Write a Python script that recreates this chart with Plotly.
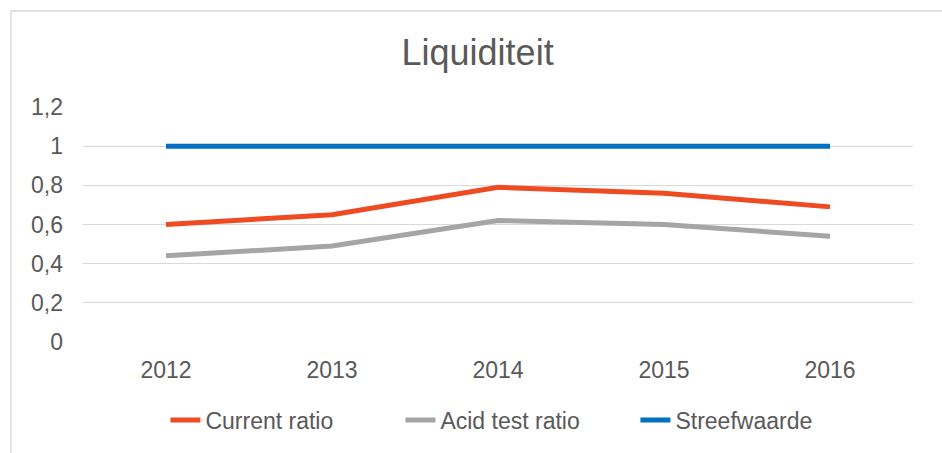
import plotly.graph_objects as go

years = ["2012", "2013", "2014", "2015", "2016"]
current_ratio = [0.60, 0.65, 0.79, 0.76, 0.69]
acid_test_ratio = [0.44, 0.49, 0.62, 0.60, 0.54]
streefwaarde = [1, 1, 1, 1, 1]
y_ticks = [0, 0.2, 0.4, 0.6, 0.8, 1, 1.2]
y_tick_labels = ["0", "0,2", "0,4", "0,6", "0,8", "1", "1,2"]

font = "Liberation Sans, Arial, sans-serif"
txt = "#595959"

fig = go.Figure()
fig.add_trace(go.Scatter(x=years, y=current_ratio, name="Current ratio", mode="lines",
                         line=dict(color="#EE4B23", width=5)))
fig.add_trace(go.Scatter(x=years, y=acid_test_ratio, name="Acid test ratio", mode="lines",
                         line=dict(color="#A5A5A5", width=5)))
fig.add_trace(go.Scatter(x=years, y=streefwaarde, name="Streefwaarde", mode="lines",
                         line=dict(color="#0070C0", width=5)))

fig.update_layout(
    width=942, height=453,
    margin=dict(l=83, r=29, t=107, b=111),
    paper_bgcolor="white", plot_bgcolor="white",
    font=dict(family=font, color=txt, size=23),
    title=dict(text="Liquiditeit", x=0.507, xanchor="center", y=0.885, yanchor="middle",
               font=dict(size=36, color=txt, family=font)),
    xaxis=dict(type="category", range=[-0.5, 4.5], showgrid=False, showline=False,
               ticks="", tickfont=dict(size=23, color=txt), ticklabelstandoff=12),
    yaxis=dict(range=[0, 1.2], tickvals=y_ticks, ticktext=y_tick_labels,
               showgrid=True, gridcolor="#D9D9D9", gridwidth=1.3, zeroline=False,
               showline=False, ticks="", tickfont=dict(size=23, color=txt),
               ticklabelstandoff=19),
    legend=dict(orientation="h", x=0.524, xanchor="center", y=-0.332, yanchor="middle",
                font=dict(size=23, color=txt), itemwidth=30, tracegroupgap=0,
                entrywidth=190, entrywidthmode="pixels"),
    showlegend=True,
    shapes=[dict(type="rect", xref="paper", yref="paper",
                 x0=(11 - 83) / 830, x1=1.2, y0=-0.6, y1=1 + (107 - 11) / 235,
                 line=dict(color="#D9D9D9", width=1.3), fillcolor="rgba(0,0,0,0)",
                 layer="below")],
)

fig.write_html("out.html", config={"displayModeBar": False},
               post_script="document.body.style.margin='0';")
